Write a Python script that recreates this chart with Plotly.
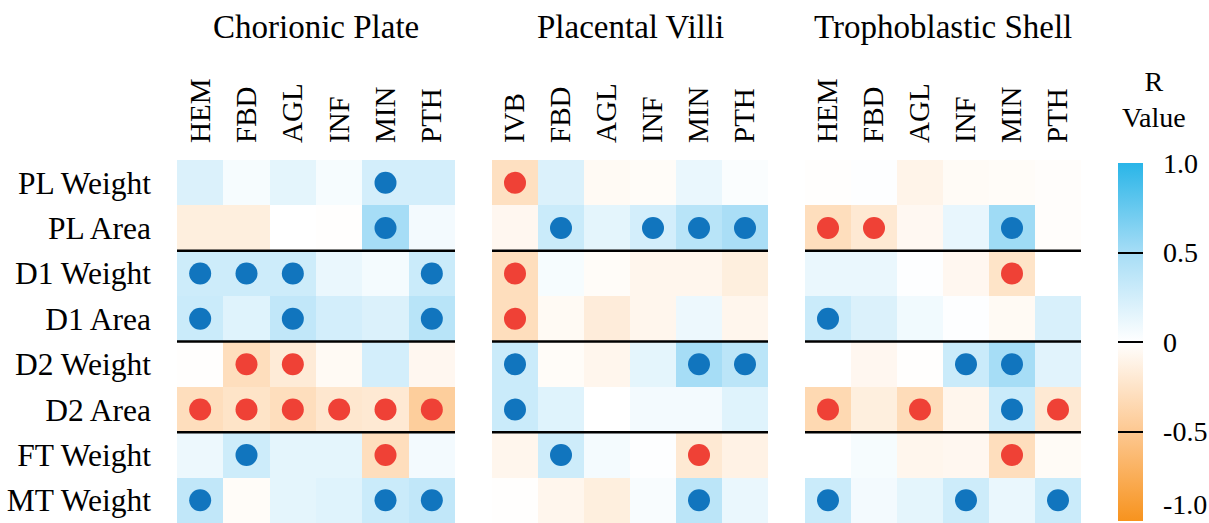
import plotly.graph_objects as go

# Row (placental measure) and column (pathology) categories
rows = ["PL Weight", "PL Area", "D1 Weight", "D1 Area",
        "D2 Weight", "D2 Area", "FT Weight", "MT Weight"]
cp_cols = ["HEM", "FBD", "AGL", "INF", "MIN", "PTH"]
pv_cols = ["IVB", "FBD", "AGL", "INF", "MIN", "PTH"]
ts_cols = ["HEM", "FBD", "AGL", "INF", "MIN", "PTH"]

# Correlation coefficients (R), one list per row
cp_r = [
    [0.20, 0.05, 0.15, 0.05, 0.25, 0.25],
    [-0.15, -0.15, 0.00, -0.01, 0.50, 0.07],
    [0.28, 0.28, 0.28, 0.12, 0.06, 0.30],
    [0.30, 0.18, 0.35, 0.25, 0.20, 0.40],
    [-0.01, -0.30, -0.18, -0.05, 0.25, -0.07],
    [-0.30, -0.25, -0.30, -0.22, -0.20, -0.45],
    [0.10, 0.28, 0.15, 0.15, -0.30, 0.07],
    [0.35, -0.03, 0.15, 0.18, 0.30, 0.35],
]
pv_r = [
    [-0.28, 0.20, -0.05, -0.03, 0.12, 0.03],
    [-0.07, 0.30, 0.15, 0.25, 0.40, 0.48],
    [-0.30, 0.05, -0.03, -0.08, -0.08, -0.15],
    [-0.30, -0.05, -0.17, -0.08, 0.10, -0.08],
    [0.30, -0.03, -0.08, 0.15, 0.50, 0.38],
    [0.30, 0.18, 0.00, 0.07, 0.07, 0.18],
    [-0.08, 0.28, 0.06, 0.01, -0.20, -0.12],
    [-0.01, -0.08, -0.15, 0.04, 0.38, 0.12],
]
ts_r = [
    [-0.01, 0.01, -0.10, -0.04, -0.03, -0.02],
    [-0.30, -0.20, -0.06, 0.13, 0.53, -0.02],
    [0.12, 0.12, 0.01, -0.07, -0.25, 0.00],
    [0.30, 0.20, 0.08, 0.01, -0.05, 0.22],
    [0.00, -0.07, -0.01, 0.30, 0.50, 0.17],
    [-0.35, -0.15, -0.32, -0.08, 0.30, -0.20],
    [0.00, 0.05, -0.08, -0.07, -0.30, -0.04],
    [0.30, 0.07, 0.15, 0.28, 0.12, 0.30],
]

# Significant correlations (1 = significant, marked with a dot)
cp_sig = [
    [0, 0, 0, 0, 1, 0],
    [0, 0, 0, 0, 1, 0],
    [1, 1, 1, 0, 0, 1],
    [1, 0, 1, 0, 0, 1],
    [0, 1, 1, 0, 0, 0],
    [1, 1, 1, 1, 1, 1],
    [0, 1, 0, 0, 1, 0],
    [1, 0, 0, 0, 1, 1],
]
pv_sig = [
    [1, 0, 0, 0, 0, 0],
    [0, 1, 0, 1, 1, 1],
    [1, 0, 0, 0, 0, 0],
    [1, 0, 0, 0, 0, 0],
    [1, 0, 0, 0, 1, 1],
    [1, 0, 0, 0, 0, 0],
    [0, 1, 0, 0, 1, 0],
    [0, 0, 0, 0, 1, 0],
]
ts_sig = [
    [0, 0, 0, 0, 0, 0],
    [1, 1, 0, 0, 1, 0],
    [0, 0, 0, 0, 1, 0],
    [1, 0, 0, 0, 0, 0],
    [0, 0, 0, 1, 1, 0],
    [1, 0, 1, 0, 1, 1],
    [0, 0, 0, 0, 1, 0],
    [1, 0, 0, 1, 0, 1],
]

panel_titles = ["Chorionic Plate", "Placental Villi", "Trophoblastic Shell"]
cbar_ticks = [1.0, 0.5, 0.0, -0.5, -1.0]
cbar_labels = ["1.0", "0.5", "0", "-0.5", "-1.0"]

W, H = 1209, 523
FONT = "'Liberation Serif', 'Times New Roman', 'DejaVu Serif', serif"
POS_DOT = "#1175BE"
NEG_DOT = "#EF4136"
colorscale = [
    [0.0, "#F7931E"],
    [0.25, "#FDC891"],
    [0.5, "#FFFFFF"],
    [0.75, "#A6DDF6"],
    [1.0, "#29B5E8"],
]

# Panel placement in pixels (left, right); rows span from top_px down to the bottom
panels_px = [(177, 455), (492, 768), (805, 1081)]
top_px = 160

panels = [(cp_cols, cp_r, cp_sig), (pv_cols, pv_r, pv_sig), (ts_cols, ts_r, ts_sig)]

fig = go.Figure()
nbsp = "\u00a0"

# the lowest colorbar label sits at the page edge, so it is lifted into view separately
cbar_ticktext = [nbsp * 2 + t for t in cbar_labels[:-1]] + [""]

for i, (cols, rvals, sig) in enumerate(panels):
    ax = "" if i == 0 else str(i + 1)
    xref, yref = "x" + ax, "y" + ax
    col_idx = list(range(len(cols)))
    row_idx = list(range(len(rows)))
    hm = go.Heatmap(
        z=rvals, x=col_idx, y=row_idx, xaxis=xref, yaxis=yref,
        zmin=-1, zmax=1, colorscale=colorscale,
        showscale=(i == 0), hoverinfo="skip",
    )
    if i == 0:
        hm.colorbar = dict(
            thickness=25, thicknessmode="pixels",
            len=358, lenmode="pixels",
            x=1118 / W, xanchor="left",
            y=1 - 163 / H, yanchor="top",
            ypad=0, xpad=0, outlinewidth=0,
            tickmode="array", tickvals=cbar_ticks,
            ticktext=cbar_ticktext,
            ticks="inside", ticklen=25, tickwidth=2, tickcolor="black",
            ticklabeloverflow="allow",
            tickfont=dict(family=FONT, size=28, color="black"),
        )
    fig.add_trace(hm)

    # dots on significant cells, coloured by the sign of R
    xs, ys, cs = [], [], []
    for r_i in row_idx:
        for c_i in col_idx:
            if sig[r_i][c_i]:
                xs.append(c_i)
                ys.append(r_i)
                cs.append(POS_DOT if rvals[r_i][c_i] > 0 else NEG_DOT)
    fig.add_trace(go.Scatter(
        x=xs, y=ys, xaxis=xref, yaxis=yref, mode="markers",
        marker=dict(size=22, color=cs, line=dict(width=0)),
        hoverinfo="skip", showlegend=False,
    ))

    left, right = panels_px[i]
    xa = dict(
        domain=[left / W, right / W], side="top", tickangle=-90,
        range=[-0.5, len(cols) - 0.5], fixedrange=True,
        tickmode="array", tickvals=col_idx, ticktext=cols,
        showgrid=False, zeroline=False, showline=False, ticks="",
        ticklabelstandoff=16, anchor=yref,
        tickfont=dict(family=FONT, size=29, color="black"),
    )
    ya = dict(
        domain=[0, 1 - top_px / H], range=[len(rows) - 0.5, -0.5],
        fixedrange=True,
        tickmode="array", tickvals=row_idx, ticktext=rows,
        showgrid=False, zeroline=False, showline=False, ticks="",
        showticklabels=(i == 0), ticklabelstandoff=25, anchor=xref,
        tickfont=dict(family=FONT, size=31.5, color="black"),
    )
    fig.update_layout(**{"xaxis" + ax: xa, "yaxis" + ax: ya})

    # separators between row pairs
    for b in (1.5, 3.5, 5.5):
        fig.add_shape(type="line", xref=xref + " domain", yref=yref,
                      x0=0, x1=1, y0=b, y1=b,
                      line=dict(color="black", width=2.5), layer="above")

    fig.add_annotation(
        text=panel_titles[i], xref="paper", yref="paper",
        x=(left + right) / 2 / W, y=1 - 27 / H, showarrow=False,
        xanchor="center", yanchor="middle",
        font=dict(family=FONT, size=33, color="black"),
    )

fig.add_annotation(
    text=cbar_labels[-1], xref="paper", yref="paper",
    x=1161 / W, y=0, showarrow=False,
    xanchor="left", yanchor="bottom", yshift=1,
    font=dict(family=FONT, size=28, color="black"),
)

fig.add_annotation(
    text="R<br>Value", xref="paper", yref="paper",
    x=1154 / W, y=1 - 100 / H, showarrow=False,
    xanchor="center", yanchor="middle",
    font=dict(family=FONT, size=28, color="black"),
)

fig.update_layout(
    width=W, height=H,
    margin=dict(l=0, r=0, t=0, b=0, autoexpand=False),
    paper_bgcolor="white", plot_bgcolor="white",
    showlegend=False,
    font=dict(family=FONT, color="black"),
)

fig.write_html("out.html")
